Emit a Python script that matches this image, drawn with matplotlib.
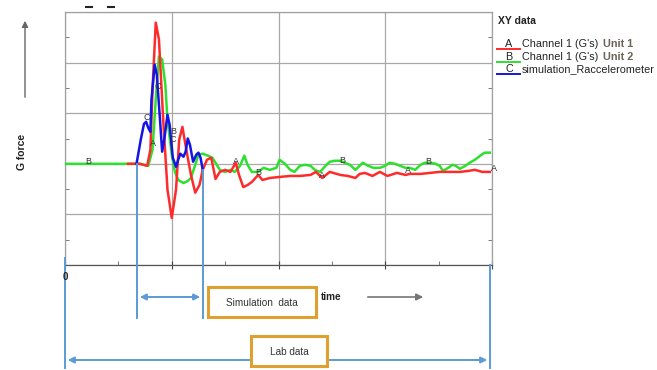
import matplotlib
matplotlib.use("Agg")
import matplotlib.pyplot as plt
from matplotlib.lines import Line2D
from matplotlib.patches import FancyArrowPatch, Rectangle

plt.rcParams['font.family'] = ['Liberation Sans', 'DejaVu Sans']

# ---------------- data (time units, G force) ----------------
red_x = [0.59, 0.70, 0.77, 0.80, 0.82, 0.85, 0.88, 0.92, 0.96, 1.00, 1.04, 1.07, 1.10, 1.12,
         1.15, 1.18, 1.22, 1.26, 1.29, 1.33, 1.37, 1.41, 1.45, 1.50, 1.55, 1.60, 1.63, 1.67,
         1.71, 1.75, 1.81, 1.85, 1.92, 2.01, 2.11, 2.20, 2.30, 2.35, 2.41, 2.48, 2.58, 2.65,
         2.72, 2.76, 2.81, 2.88, 2.95, 3.02, 3.11, 3.19, 3.23, 3.33, 3.42, 3.51, 3.61, 3.70,
         3.78, 3.84, 3.91, 3.98]
red_y = [0.00, 0.00, -0.04, 0.28, 1.47, 2.79, 2.46, 0.87, -0.51, -1.07, -0.51, 0.48, 0.73, 0.48,
         0.12, -0.22, -0.57, -0.42, -0.12, 0.08, 0.12, -0.30, -0.16, -0.12, -0.16, 0.02, -0.22, -0.46,
         -0.42, -0.36, -0.22, -0.32, -0.28, -0.26, -0.24, -0.24, -0.22, -0.16, -0.28, -0.16, -0.22, -0.24,
         -0.28, -0.20, -0.18, -0.24, -0.16, -0.24, -0.18, -0.22, -0.20, -0.20, -0.18, -0.16, -0.16, -0.16,
         -0.14, -0.12, -0.16, -0.16]

green_x = [0.00, 0.70, 0.78, 0.82, 0.85, 0.88, 0.91, 0.94, 0.96, 1.00, 1.03, 1.06, 1.11, 1.15,
           1.18, 1.22, 1.25, 1.29, 1.34, 1.38, 1.41, 1.45, 1.50, 1.55, 1.59, 1.64, 1.68, 1.71,
           1.75, 1.81, 1.86, 1.92, 1.98, 2.01, 2.06, 2.11, 2.15, 2.20, 2.25, 2.30, 2.34, 2.39,
           2.44, 2.48, 2.53, 2.58, 2.62, 2.67, 2.72, 2.76, 2.79, 2.84, 2.89, 2.95, 3.00, 3.04,
           3.09, 3.14, 3.19, 3.23, 3.28, 3.33, 3.37, 3.42, 3.47, 3.51, 3.54, 3.59, 3.63, 3.66,
           3.70, 3.75, 3.79, 3.84, 3.89, 3.93, 3.98]
green_y = [0.00, 0.00, -0.04, 0.28, 1.27, 2.12, 2.06, 1.56, 0.87, 0.18, -0.16, -0.32, -0.38, -0.34,
           -0.28, -0.02, 0.18, 0.20, 0.16, 0.12, 0.02, -0.12, -0.16, -0.12, -0.16, -0.04, 0.16, -0.02,
           -0.16, -0.16, -0.08, -0.12, -0.08, 0.08, 0.00, -0.12, -0.16, -0.04, -0.02, -0.04, -0.12, -0.16,
           -0.04, 0.04, 0.06, 0.06, 0.02, -0.02, -0.12, -0.04, 0.02, -0.04, -0.08, -0.08, -0.04, 0.02,
           0.00, -0.04, -0.08, -0.08, -0.12, -0.02, 0.02, 0.02, 0.00, -0.04, -0.14, -0.08, -0.02, -0.04,
           -0.10, -0.04, 0.02, 0.08, 0.16, 0.22, 0.22]

blue_x = [0.67, 0.71, 0.74, 0.76, 0.78, 0.80, 0.81, 0.84, 0.86, 0.89, 0.91, 0.93, 0.96, 0.98,
          1.01, 1.04, 1.06, 1.08, 1.11, 1.13, 1.15, 1.17, 1.20, 1.23, 1.25, 1.27, 1.29]
blue_y = [0.00, 0.48, 0.79, 0.83, 0.71, 0.63, 1.27, 1.96, 1.76, 0.87, 0.24, 0.48, 0.97, 0.77,
          0.12, -0.06, 0.08, 0.20, 0.14, 0.24, 0.50, 0.38, 0.04, 0.18, 0.22, 0.12, -0.12]

# curve marker letters (label, x, y)
mark_labels = ['B', 'C', 'A', 'C', 'B', 'C', 'A', 'B', 'A', 'B', 'A', 'B', 'A']
mark_x = [0.22, 0.77, 0.82, 0.87, 1.01, 1.01, 1.60, 1.81, 2.41, 2.60, 3.21, 3.40, 4.02]
mark_y = [0.04, 0.92, 0.40, 1.52, 0.64, 0.48, 0.04, -0.18, -0.24, 0.06, -0.14, 0.04, -0.10]

legend_codes = ['A', 'B', 'C']
legend_names = ["Channel 1 (G's)", "Channel 1 (G's)", "simulation_Raccelerometer"]
legend_units = ['Unit 1', 'Unit 2', '']
colors = ['#ff2a2a', '#2ee02e', '#1414e6']

W, H = 657, 370
fig = plt.figure(figsize=(W / 100, H / 100), dpi=100)
fig.patch.set_facecolor('white')


def fx(px):
    return px / W


def fy(py):
    return 1 - py / H


ax = fig.add_axes([fx(65), fy(265), fx(492) - fx(65), fy(12) - fy(265)])
ax.set_xlim(0, 4)
ax.set_ylim(-2, 3)
ax.set_xticks([0, 1, 2, 3, 4])
ax.set_xticks([0.5, 1.5, 2.5, 3.5], minor=True)
ax.set_yticks([-2, -1, 0, 1, 2, 3])
ax.set_yticks([-1.5, -0.5, 0.5, 1.5, 2.5], minor=True)
ax.set_xticklabels([])
ax.set_yticklabels([])
ax.grid(True, which='major', color='#a8a8a8', lw=0.9)
ax.tick_params(which='major', axis='x', direction='inout', length=6, color='#444444')
ax.tick_params(which='major', axis='y', length=0)
ax.tick_params(which='minor', direction='in', length=3, color='#666666', right=True)
for s in ax.spines.values():
    s.set_color('#a0a0a0')
    s.set_linewidth(0.9)
ax.spines['bottom'].set_color('#555555')

ax.plot(green_x, green_y, color=colors[1], lw=1.8, zorder=3)
ax.plot(red_x, red_y, color=colors[0], lw=1.8, zorder=4)
ax.plot(blue_x, blue_y, color=colors[2], lw=1.8, zorder=5)
for lab, x, y in zip(mark_labels, mark_x, mark_y):
    ax.text(x, y, lab, fontsize=6.5, color='#333333', ha='center', va='center', zorder=6,
            clip_on=False)

# top dashes
for px in (86, 108):
    fig.add_artist(Line2D([fx(px), fx(px + 6)], [fy(7), fy(7)], color='#222222', lw=1.5))

# Y label and arrow
fig.text(fx(22), fy(152), 'G force', rotation=90, fontsize=7.5, fontweight='bold',
         ha='center', va='center', color='#222222')
fig.add_artist(FancyArrowPatch((fx(25), fy(100)), (fx(25), fy(18)), transform=fig.transFigure,
                               arrowstyle='-|>', mutation_scale=9, color='#666666', lw=1))

# zero label
fig.text(fx(65), fy(277), '0', fontsize=7, fontweight='bold', ha='center', va='center',
         color='#222222')

# legend
fig.text(fx(498), fy(21), 'XY data', fontsize=7.5, fontweight='bold', ha='left', va='center',
         color='#222222')
for i, (c, n, u, col) in enumerate(zip(legend_codes, legend_names, legend_units, colors)):
    yy = 44 + i * 12.5
    fig.add_artist(Line2D([fx(497), fx(520)], [fy(yy + 5), fy(yy + 5)], color=col, lw=1.4))
    fig.text(fx(509), fy(yy), c, fontsize=7.8, ha='center', va='center', color='#222222')
    fig.text(fx(522), fy(yy), n, fontsize=7.8, ha='left', va='center', color='#222222')
    if u:
        fig.text(fx(603), fy(yy), u, fontsize=7.8, fontweight='bold', ha='left', va='center',
                 color='#6b6358')

blue = '#5b9bd5'
# vertical markers
for px, y0, y1 in ((137, 164, 318), (203, 170, 318), (65, 258, 368), (490, 265, 368)):
    fig.add_artist(Line2D([fx(px), fx(px)], [fy(y0), fy(y1)], color=blue, lw=1.4, zorder=2))

# double arrows
for x0, x1, yy in ((137, 203, 297), (65, 490, 360)):
    fig.add_artist(FancyArrowPatch((fx(x0), fy(yy)), (fx(x1), fy(yy)), transform=fig.transFigure,
                                   arrowstyle='<|-|>', mutation_scale=9, color=blue, lw=1.4))

# boxes
orange = '#e0a030'
for x0, y0, x1, y1, txt in ((208, 287, 316, 317, 'Simulation  data'), (251, 336, 327, 366, 'Lab data')):
    fig.add_artist(Rectangle((fx(x0), fy(y1)), fx(x1) - fx(x0), fy(y0) - fy(y1),
                             transform=fig.transFigure, facecolor='white', edgecolor=orange,
                             lw=2.2, zorder=5))
    fig.text(fx((x0 + x1) / 2), fy((y0 + y1) / 2 + 1), txt, fontsize=7.2, ha='center', va='center',
             color='#333333', zorder=6)

fig.text(fx(321), fy(297), 'time', fontsize=7.2, fontweight='bold', ha='left', va='center',
         color='#222222')
fig.add_artist(FancyArrowPatch((fx(365), fy(297)), (fx(426), fy(297)), transform=fig.transFigure,
                               arrowstyle='-|>', mutation_scale=10, color='#777777', lw=1.2))

fig.savefig('out.png', dpi=100, facecolor='white')
